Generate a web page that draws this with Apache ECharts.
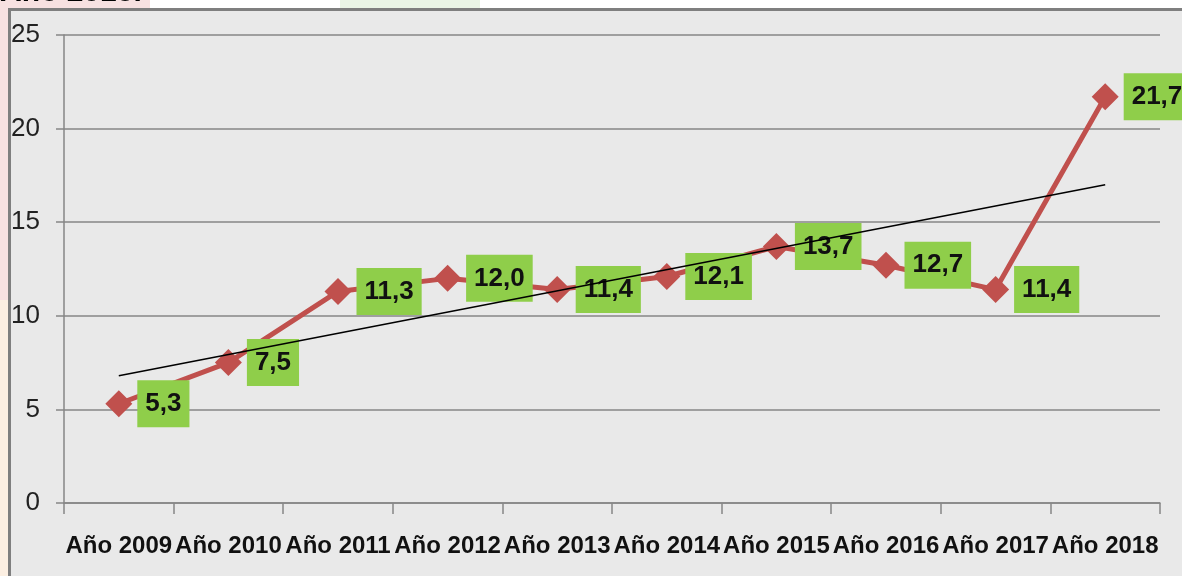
<!DOCTYPE html>
<html>
<head>
<meta charset="utf-8">
<script src="https://cdn.jsdelivr.net/npm/echarts@6/dist/echarts.min.js"></script>
<style>
html,body{margin:0;padding:0;background:#ffffff;}
#chart{width:1182px;height:576px;}
</style>
</head>
<body>
<div id="chart"></div>
<script>
// Data
const categories = ['Año 2009','Año 2010','Año 2011','Año 2012','Año 2013','Año 2014','Año 2015','Año 2016','Año 2017','Año 2018'];
const values = [5.3, 7.5, 11.3, 12.0, 11.4, 12.1, 13.7, 12.7, 11.4, 21.7];
// Linear trend line endpoints (first and last category)
const trendStart = 6.8;
const trendEnd = 17.0;
const yTicks = [0, 5, 10, 15, 20, 25];
const titleText = 'Año 2018.';

const trendData = categories.map((c, i) => i === 0 ? trendStart : (i === categories.length - 1 ? trendEnd : null));

const FONT = '"Liberation Sans Narrow", "Liberation Sans", Arial, sans-serif';

const chart = echarts.init(document.getElementById('chart'), null, {renderer: 'canvas'});
chart.setOption({
  animation: false,
  backgroundColor: '#ffffff',
  graphic: [
    {type: 'rect', left: 0, top: 0, shape: {width: 8, height: 300}, style: {fill: '#f7e1e1'}, z: -10},
    {type: 'rect', left: 0, top: 0, shape: {width: 150, height: 8}, style: {fill: '#f7e1e1'}, z: -10},
    {type: 'rect', left: 0, top: 300, shape: {width: 8, height: 276}, style: {fill: '#fcefe2'}, z: -10},
    {type: 'rect', left: 340, top: 0, shape: {width: 140, height: 8}, style: {fill: '#eaf5e6'}, z: -10},
    {type: 'rect', left: 8, top: 8, shape: {width: 1180, height: 572}, style: {fill: '#e9e9e9', stroke: '#7f7f7f', lineWidth: 3}, z: -5},
    {type: 'text', left: 0, top: -22, style: {text: titleText, font: 'bold 30px "Liberation Sans", Arial, sans-serif', fill: '#000000'}, z: 10}
  ],
  grid: {left: 64, right: 22, top: 35, bottom: 73, containLabel: false},
  xAxis: {
    type: 'category',
    data: categories,
    boundaryGap: true,
    axisLine: {show: true, lineStyle: {color: '#868686', width: 1.5}},
    axisTick: {show: true, length: 11, lineStyle: {color: '#868686', width: 1.5}},
    axisLabel: {fontFamily: FONT, fontSize: 24, fontWeight: 'bold', color: '#111111', margin: 31, interval: 0}
  },
  yAxis: {
    type: 'value',
    min: yTicks[0],
    max: yTicks[yTicks.length - 1],
    interval: 5,
    axisLine: {show: true, lineStyle: {color: '#868686', width: 1.5}},
    axisTick: {show: true, length: 8, lineStyle: {color: '#868686', width: 1.5}},
    axisLabel: {fontFamily: FONT, fontSize: 26, color: '#222222', margin: 24},
    splitLine: {show: true, lineStyle: {color: '#868686', width: 1.5}}
  },
  series: [
    {
      type: 'line',
      data: values,
      z: 3,
      lineStyle: {color: '#c0504d', width: 5},
      itemStyle: {color: '#c0504d'},
      symbol: 'diamond',
      symbolSize: 27,
      label: {
        show: true,
        position: 'right',
        distance: 5,
        formatter: p => p.value.toFixed(1).replace('.', ','),
        fontFamily: FONT,
        fontSize: 26,
        fontWeight: 'bold',
        color: '#111111',
        backgroundColor: '#8fce4a',
        padding: [11, 8, 10, 8]
      }
    },
    {
      type: 'line',
      data: trendData,
      connectNulls: true,
      z: 5,
      symbol: 'none',
      lineStyle: {color: '#000000', width: 1.5},
      silent: true
    }
  ]
});
</script>
</body>
</html>
